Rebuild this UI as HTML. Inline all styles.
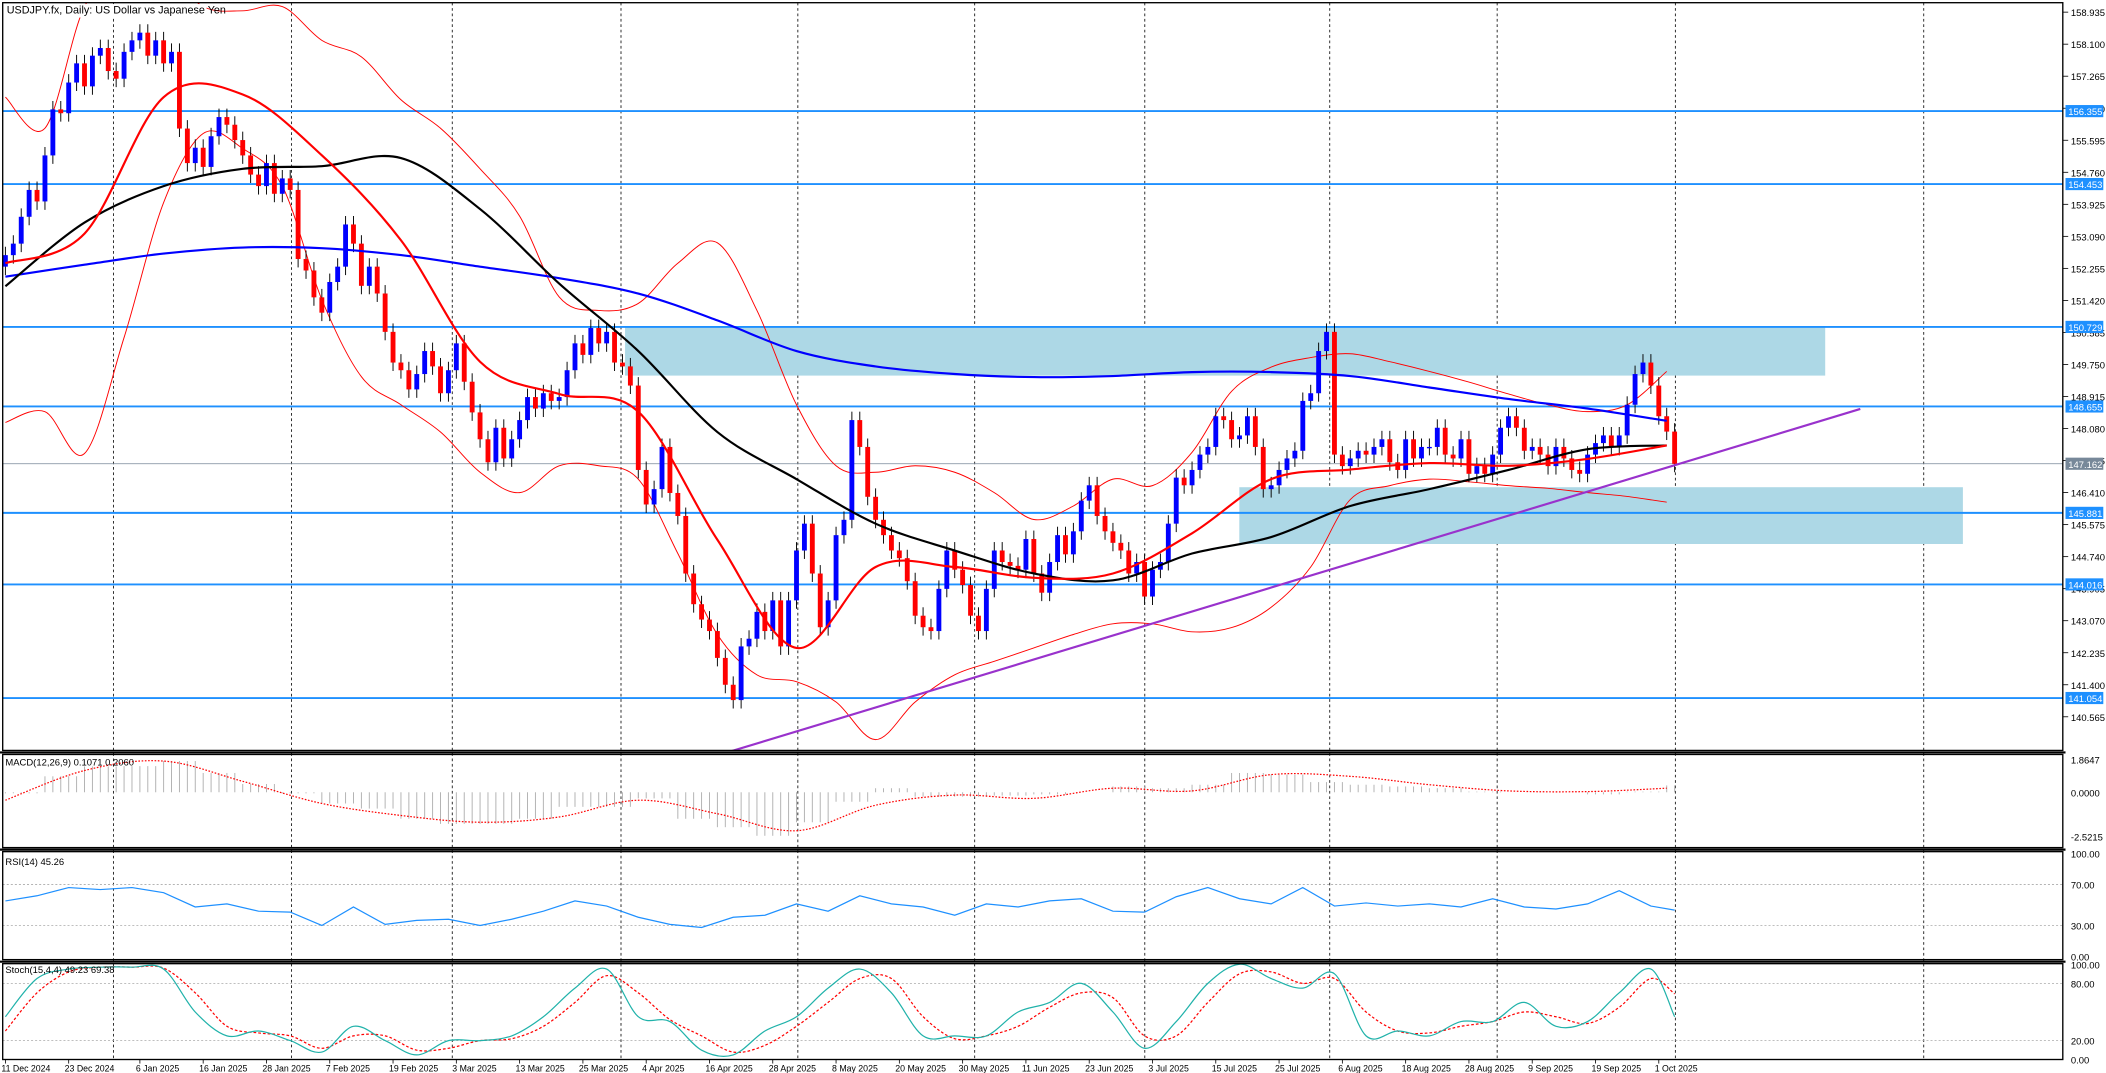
<!DOCTYPE html>
<html><head><meta charset="utf-8"><style>
html,body{margin:0;padding:0;background:#fff;overflow:hidden}
svg{display:block;font-family:"Liberation Sans",sans-serif}
</style></head><body>
<svg id="c" width="2106" height="1073" viewBox="0 0 1560 795" preserveAspectRatio="none" xmlns="http://www.w3.org/2000/svg">
<rect x="0" y="0" width="1560" height="795" fill="#fff"/>
<defs><clipPath id="mainClip"><rect x="2" y="2" width="1526" height="554"/></clipPath></defs>
<g id="grid"></g>
<g id="zones" clip-path="url(#mainClip)"></g>
<g id="hlines"></g>
<g id="bands" clip-path="url(#mainClip)"></g>
<g id="candles" clip-path="url(#mainClip)"></g>
<g id="mas" clip-path="url(#mainClip)"></g>
<g id="trend" clip-path="url(#mainClip)"></g>
<g id="macd"></g><g id="rsi"></g><g id="stoch"></g>
<g id="axes"></g>
<rect x="3" y="3" width="150" height="10" fill="#fff"/>
<text x="5" y="10" font-size="8" fill="#000">USDJPY.fx, Daily:  US Dollar vs Japanese Yen</text>
</svg>
<script>
const closes=[152.6,152.9,153.6,154.3,154.0,155.2,156.4,156.3,157.1,157.6,
157.0,157.8,158.0,157.4,157.2,157.9,158.2,158.4,157.8,158.2,
157.6,157.9,155.9,155.0,155.4,154.9,155.7,156.2,156.0,155.6,
155.2,154.7,154.4,155.0,154.2,154.6,154.3,152.5,152.2,151.5,
151.1,151.9,152.3,153.4,152.9,151.8,152.3,151.6,150.6,149.8,
149.6,149.1,149.5,150.1,149.7,149.0,149.6,150.3,149.3,148.5,
147.8,147.2,148.1,147.3,147.8,148.3,148.9,148.6,149.0,148.8,
148.9,149.6,150.3,150.0,150.7,150.3,150.6,149.8,149.7,149.2,
147.0,146.1,146.5,147.6,146.4,145.8,144.3,143.5,143.1,142.8,
142.1,141.4,141.0,142.4,142.6,143.3,142.8,143.6,142.4,143.6,
144.9,145.6,144.3,142.9,143.6,145.3,145.7,148.3,147.6,146.3,
145.7,145.3,144.9,144.7,144.1,143.2,142.9,142.8,143.9,144.9,
144.4,144.0,143.2,142.8,143.9,144.9,144.6,144.5,144.4,145.2,
144.3,143.8,144.6,145.3,144.8,145.4,146.2,146.6,145.8,145.4,
145.1,144.9,144.3,144.6,143.7,144.4,144.6,145.6,146.8,146.6,
147.0,147.4,147.6,148.4,148.3,147.8,147.9,148.4,147.6,146.5,
146.6,147.0,147.3,147.5,148.8,149.0,150.1,150.6,147.4,147.1,
147.3,147.5,147.4,147.6,147.8,147.2,147.0,147.8,147.3,147.6,
147.6,148.1,147.4,147.3,147.8,146.9,147.1,146.9,147.4,148.1,
148.4,148.1,147.5,147.6,147.4,147.1,147.6,147.3,147.0,146.9,
147.4,147.7,147.9,147.6,147.9,148.7,149.5,149.8,149.2,148.4,148.0,147.16];
const firstOpen=152.3;
const maBlue=[152.04,152.35,152.64,152.8,152.78,152.6,152.3,152.0,151.6,150.9,150.1,149.7,149.5,149.42,149.45,149.55,149.55,149.45,149.15,148.85,148.6,148.28];
const maBlack=[151.79,153.45,154.4,154.85,154.92,155.13,153.8,151.86,150.1,147.99,146.76,145.6,144.9,144.3,144.12,144.82,145.25,146.06,146.5,147.0,147.54,147.64];
const maRed=[152.39,153.16,156.72,156.79,155.2,152.99,149.82,148.98,148.52,145.18,142.36,144.47,144.47,144.19,144.3,145.35,146.76,147.01,147.18,147.11,147.29,147.64];
const bbUpper=[156.72,155.91,159.08,160.0,160.0,159.08,158.97,159.08,158.20,157.77,156.65,155.91,154.85,153.62,151.51,151.16,151.34,152.39,152.92,151.16,148.70,147.11,146.94,147.11,146.94,146.41,145.71,146.06,146.76,146.59,147.46,149.05,149.68,149.93,150.03,149.82,149.57,149.29,148.98,148.70,148.52,148.70,149.57];
const bbLower=[148.24,148.52,147.43,150.45,153.97,155.77,155.38,154.40,151.44,149.43,148.70,147.99,146.94,146.41,147.11,147.11,146.76,144.82,142.71,141.66,141.48,140.95,139.97,140.95,141.66,142.01,142.36,142.71,142.99,142.99,142.78,142.89,143.42,144.47,146.23,146.59,146.76,146.69,146.59,146.52,146.41,146.31,146.16];
const levels=[156.355,154.453,150.729,148.655,145.881,144.016,141.054];
const currentPrice=147.162;
const macdHist=[-0.06,0.91,1.47,1.49,1.78,1.10,0.47,-0.06,-0.64,-0.93,-1.51,-1.80,-1.80,-1.51,-0.83,-0.83,-0.35,-1.51,-1.99,-2.48,-1.71,-0.54,0.23,-0.25,-0.25,-0.19,-0.12,0,0.33,0.23,0.43,1.10,1.01,0.58,0.43,0.33,0.23,0.04,0,0,-0.12,0.04,0.39];
const macdSignal=[-0.45,1.24,1.78,0.62,-0.64,-1.32,-1.71,-1.41,-0.45,-1.22,-2.19,-0.74,-0.16,-0.35,0.23,0.08,1.01,0.91,0.43,0.08,0.04,0.23];
const rsiVals=[54,59,67,65,67,62,48,51,44,43,30,48,31,35,36,30,36,44,54,49,38,31,28,38,40,51,44,59,51,48,40,51,48,54,56,44,43,58,67,56,51,67,49,52,49,51,48,56,48,46,51,64,49,45];
const stochK=[45,85,95,97,97,95,50,25,30,20,8,35,20,5,20,20,25,45,75,95,45,40,10,5,30,45,75,95,70,25,25,25,50,60,80,50,12,40,80,100,85,75,90,25,30,25,40,40,60,35,40,70,95,45];
const stochD=[30,70,92,97,97,96,70,35,28,25,12,25,25,10,12,20,22,35,60,88,70,42,25,8,15,35,60,85,85,45,22,25,35,55,70,65,25,25,60,90,92,80,85,50,30,28,35,40,50,45,38,55,85,69];
const priceTicks=[158.935,158.100,157.265,156.430,155.595,154.760,153.925,153.090,152.255,151.420,150.585,149.750,148.915,148.080,147.245,146.410,145.575,144.740,143.905,143.070,142.235,141.400,140.565];
const dateLabels=["11 Dec 2024","23 Dec 2024","6 Jan 2025","16 Jan 2025","28 Jan 2025","7 Feb 2025","19 Feb 2025","3 Mar 2025","13 Mar 2025","25 Mar 2025","4 Apr 2025","16 Apr 2025","28 Apr 2025","8 May 2025","20 May 2025","30 May 2025","11 Jun 2025","23 Jun 2025","3 Jul 2025","15 Jul 2025","25 Jul 2025","6 Aug 2025","18 Aug 2025","28 Aug 2025","9 Sep 2025","19 Sep 2025","1 Oct 2025"];
const dateBars=[0,8,17,25,33,41,49,57,65,73,81,89,97,105,113,121,129,137,145,153,161,169,177,185,193,201,209];

const NS="http://www.w3.org/2000/svg";
function mk(tag,attrs,parent){const e=document.createElementNS(NS,tag);for(const k in attrs)e.setAttribute(k,attrs[k]);parent.appendChild(e);return e;}
const X=i=>4+i*5.86;
const Y=p=>9+(158.935-p)*28.42;
const YM=v=>587-v*13;
const YR=v=>708.5-v*0.76;
const YS=v=>771-(v-20)*0.707;
const G=id=>document.getElementById(id);

// grid verticals
const gx=[84,216,335,460,591,722,848,985,1109,1241,1425];
gx.forEach(x=>{const l=mk('line',{x1:x,y1:2,x2:x,y2:785,stroke:'#000','stroke-width':0.6,'stroke-dasharray':'2,2'},G('grid'));
});
[[2,556],[631,711],[714,785],[559,628]].forEach(r=>{const e=mk('rect',{x:2,y:r[0],width:1526,height:r[1]-r[0],fill:'none',stroke:'#000','stroke-width':1},G('axes'));
});
[557.5,629.5,712.5].forEach(y=>{const e=mk('line',{x1:0,y1:y,x2:1530,y2:y,stroke:'#000','stroke-width':1.6},G('axes'));});

let z=mk('rect',{x:463,y:Y(150.729),width:889,height:Y(149.46)-Y(150.729),fill:'#add8e6'},G('zones'));

z=mk('rect',{x:918,y:Y(146.55),width:536,height:Y(145.07)-Y(146.55),fill:'#add8e6'},G('zones'));


levels.forEach(p=>{const l=mk('line',{x1:2,y1:Y(p),x2:1528,y2:Y(p),stroke:'#1e90ff','stroke-width':1.4},G('hlines'));
});
let cl=mk('line',{x1:2,y1:Y(currentPrice),x2:1528,y2:Y(currentPrice),stroke:'#778899','stroke-width':0.6},G('hlines'));


function smoothD(pts){let d='M'+pts[0][0].toFixed(1)+','+pts[0][1].toFixed(1);
 for(let i=0;i<pts.length-1;i++){const p0=pts[Math.max(0,i-1)],p1=pts[i],p2=pts[i+1],p3=pts[Math.min(pts.length-1,i+2)];
  const c1x=p1[0]+(p2[0]-p0[0])/6,c1y=p1[1]+(p2[1]-p0[1])/6,c2x=p2[0]-(p3[0]-p1[0])/6,c2y=p2[1]-(p3[1]-p1[1])/6;
  d+=' C'+c1x.toFixed(1)+','+c1y.toFixed(1)+' '+c2x.toFixed(1)+','+c2y.toFixed(1)+' '+p2[0].toFixed(1)+','+p2[1].toFixed(1);}
 return d;}
function smooth(arr,step,yf,attrs,parent,name){
  const pts=arr.map((v,k)=>[X(Math.min(k*step,closes.length-1)),yf(v)]);
  const e=mk('path',Object.assign({d:smoothD(pts),fill:'none'},attrs),parent);
  return e;}
function sampled(arr,step,yf,attrs,parent,name){
  const pts=arr.map((v,k)=>X(Math.min(k*step,closes.length-1)).toFixed(1)+','+yf(v).toFixed(1)).join(' ');
  const e=mk('polyline',Object.assign({points:pts,fill:'none'},attrs),parent);
  return e;}
smooth(bbUpper,5,Y,{stroke:'#ff0000','stroke-width':0.7},G('bands'),'bollinger-upper');
smooth(bbLower,5,Y,{stroke:'#ff0000','stroke-width':0.7},G('bands'),'bollinger-lower');

closes.forEach((c,i)=>{
  const o=i===0?firstOpen:closes[i-1];
  const hi=Math.max(o,c)+0.22, lo=Math.min(o,c)-0.22;
  const x=X(i);
  const w=mk('line',{x1:x,y1:Y(hi),x2:x,y2:Y(lo),stroke:'#000','stroke-width':0.7},G('candles'));
  
  const t=Math.min(Y(o),Y(c)),h=Math.max(1,Math.abs(Y(o)-Y(c)));
  const b=mk('rect',{x:x-1.8,y:t,width:3.6,height:h,fill:c>=o?'#0000ff':'#ff0000'},G('candles'));
  
});
smooth(maBlue,10,Y,{stroke:'#0000ff','stroke-width':1.6},G('mas'),'ma-200-blue');
smooth(maBlack,10,Y,{stroke:'#000','stroke-width':1.6},G('mas'),'ma-50-black');
smooth(maRed,10,Y,{stroke:'#ff0000','stroke-width':1.6},G('mas'),'ma-20-red');

const tl=mk('line',{x1:540,y1:Y(139.65),x2:1378,y2:Y(148.59),stroke:'#9932cc','stroke-width':1.6},G('trend'));


priceTicks.forEach(p=>{const y=Y(p);mk('line',{x1:1528,y1:y,x2:1532,y2:y,stroke:'#000','stroke-width':0.6},G('axes'));
const t=mk('text',{x:1534,y:y+3,'font-size':7,fill:'#000'},G('axes'));t.textContent=p.toFixed(3);
});
function tag(p,color,name){const y=Y(p);const r=mk('rect',{x:1530,y:y-4.5,width:28,height:9,fill:color},G('axes'));

const t=mk('text',{x:1532,y:y+3,'font-size':7,fill:'#fff'},G('axes'));t.textContent=p.toFixed(3);
}
levels.forEach(p=>tag(p,'#1e90ff','level-tag'));
tag(currentPrice,'#778899','current-price-tag');

macdHist.forEach((v,k)=>{for(let j=0;j<5;j++){const i=k*5+j;if(i>=closes.length)break;
const l=mk('line',{x1:X(i),y1:YM(0),x2:X(i),y2:YM(v),stroke:'#b0b0b0','stroke-width':0.7},G('macd'));
}});
smooth(macdSignal,10,YM,{stroke:'#ff0000','stroke-width':0.9,'stroke-dasharray':'1.2,1.2'},G('macd'),'macd-signal-line');
[['1.8647',1.8647],['0.0000',0],['-2.5215',-2.5215]].forEach(a=>{const t=mk('text',{x:1534,y:YM(a[1])+3,'font-size':7},G('axes'));t.textContent=a[0];
});
let tt=mk('text',{x:4,y:567,'font-size':7},G('macd'));tt.textContent='MACD(12,26,9) 0.1071 0.2060';

[70,30].forEach(v=>mk('line',{x1:2,y1:YR(v),x2:1528,y2:YR(v),stroke:'#aaa','stroke-width':0.6,'stroke-dasharray':'1.5,1.5'},G('rsi')));
sampled(rsiVals,4,YR,{stroke:'#1e90ff','stroke-width':0.9},G('rsi'),'rsi-line');
[['100.00',100],['70.00',70],['30.00',30],['0.00',0]].forEach(a=>{const t=mk('text',{x:1534,y:YR(a[1])+3,'font-size':7},G('axes'));t.textContent=a[0];
});
tt=mk('text',{x:4,y:641,'font-size':7},G('rsi'));tt.textContent='RSI(14) 45.26';

[80,20].forEach(v=>mk('line',{x1:2,y1:YS(v),x2:1528,y2:YS(v),stroke:'#aaa','stroke-width':0.6,'stroke-dasharray':'1.5,1.5'},G('stoch')));
smooth(stochD,4,YS,{stroke:'#ff0000','stroke-width':0.9,'stroke-dasharray':'2,1.5'},G('stoch'),'stoch-signal-line');
smooth(stochK,4,YS,{stroke:'#20b2aa','stroke-width':0.9},G('stoch'),'stoch-main-line');
[['100.00',100],['80.00',80],['20.00',20],['0.00',0]].forEach(a=>{const t=mk('text',{x:1534,y:YS(a[1])+3,'font-size':7},G('axes'));t.textContent=a[0];
});
tt=mk('text',{x:4,y:721,'font-size':7},G('stoch'));tt.textContent='Stoch(15,4,4) 49.23 69.38';

dateLabels.forEach((d,k)=>{const x=X(dateBars[k]);mk('line',{x1:x,y1:785,x2:x,y2:788,stroke:'#000','stroke-width':0.6},G('axes'));
const t=mk('text',{x:x-3,y:794,'font-size':6.5},G('axes'));t.textContent=d;
});
</script>
</body></html>
